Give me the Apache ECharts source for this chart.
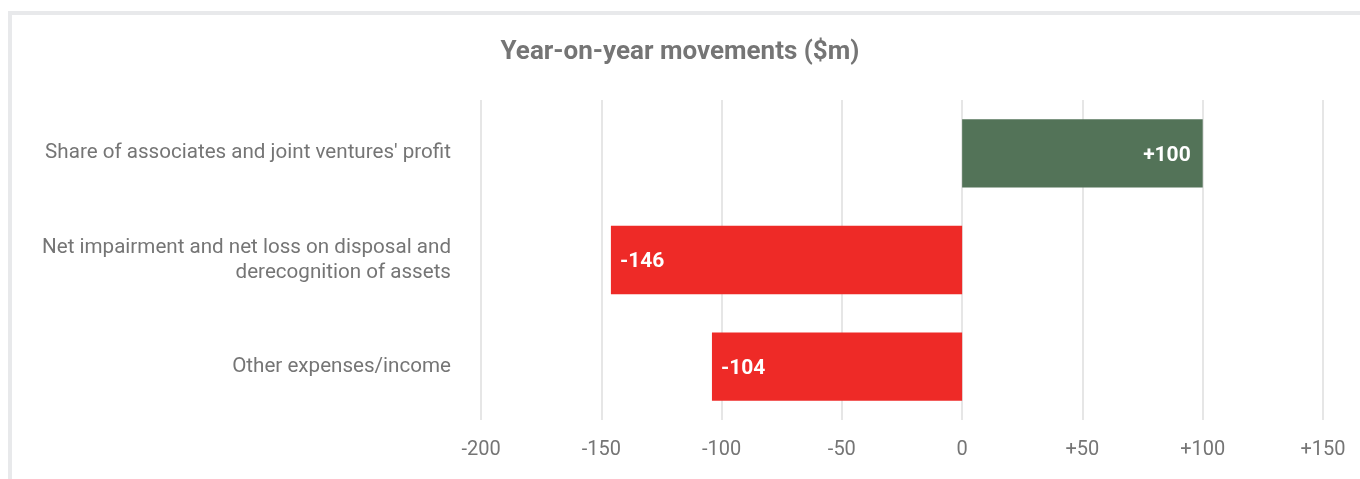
<!DOCTYPE html>
<html>
<head>
<meta charset="utf-8">
<script src="https://cdn.jsdelivr.net/npm/echarts@6/dist/echarts.min.js"></script>
<style>
html,body{margin:0;padding:0;background:#fff;}
#frame{position:absolute;left:8px;top:11px;right:-10px;bottom:-10px;border-top:4px solid #e8e9eb;border-left:4px solid #e8e9eb;}
#chart{position:absolute;left:0;top:0;width:1360px;height:479px;}
</style>
</head>
<body>
<div id="frame"></div>
<div id="chart"></div>
<script>
const categories = ["Share of associates and joint ventures' profit", "Net impairment and net loss on disposal and\nderecognition of assets", "Other expenses/income"];
const values = [100, -146, -104];
const barColors = ["#537358", "#ee2a27", "#ee2a27"];

const chart = echarts.init(document.getElementById('chart'));
const fmt = v => (v > 0 ? '+' + v : '' + v);
chart.setOption({
  animation: false,
  textStyle: {fontFamily: 'Roboto'},
  title: {
    text: 'Year-on-year movements ($m)',
    left: 'center', top: 34,
    textStyle: {fontFamily: 'Roboto', fontSize: 26, fontWeight: 'bold', color: '#757575'}
  },
  grid: {left: 481, right: 37, top: 100, bottom: 59},
  xAxis: {
    type: 'value', min: -200, max: 150, interval: 50,
    axisLine: {show: false}, axisTick: {show: false},
    splitLine: {lineStyle: {color: '#e6e6e6', width: 2}},
    axisLabel: {formatter: fmt, fontSize: 20, color: '#757575', margin: 20, fontFamily: 'Roboto'}
  },
  yAxis: {
    type: 'category', data: categories, inverse: true,
    axisLine: {show: false}, axisTick: {show: false},
    axisLabel: {fontSize: 20.6, color: '#757575', margin: 30, lineHeight: 25, align: 'right', fontFamily: 'Roboto', padding: [5, 0, 0, 0]}
  },
  series: [{
    type: 'bar',
    barWidth: '64%',
    data: values.map((v, i) => ({value: v, itemStyle: {color: barColors[i]},
      label: {position: v >= 0 ? 'insideRight' : 'insideLeft', distance: v >= 0 ? 12 : 9}})),
    label: {show: true, formatter: p => fmt(p.value), color: '#fff', fontWeight: 'bold', fontSize: 21, fontFamily: 'Roboto', offset: [0, 2]}
  }]
});
</script>
</body>
</html>
